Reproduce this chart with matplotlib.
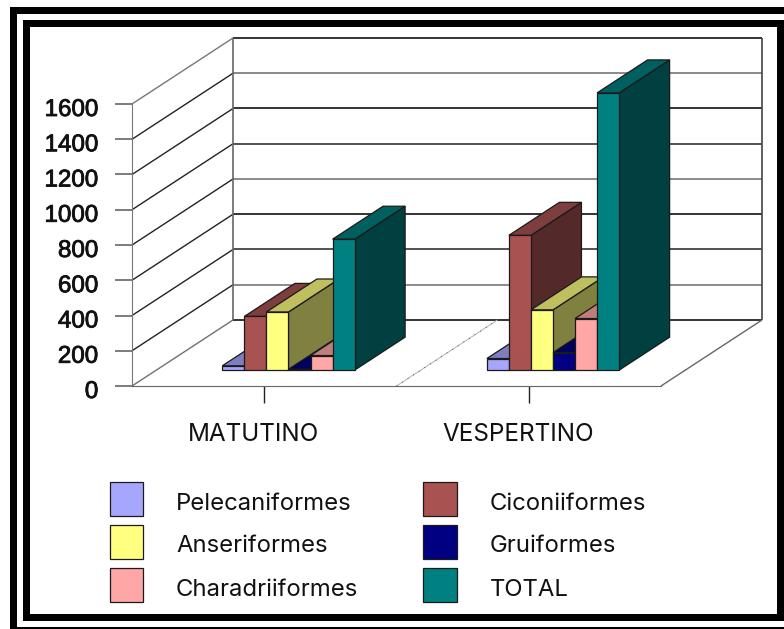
import matplotlib
matplotlib.use("Agg")
import matplotlib.pyplot as plt
import matplotlib.patheffects as pe
from matplotlib.patches import Polygon, Rectangle
from matplotlib.transforms import ScaledTranslation

categories = ["MATUTINO", "VESPERTINO"]
series = ["Pelecaniformes", "Ciconiiformes", "Anseriformes",
          "Gruiformes", "Charadriiformes", "TOTAL"]

pelecaniformes = [25, 66]
ciconiiformes = [305, 765]
anseriformes = [330, 342]
gruiformes = [5, 100]
charadriiformes = [83, 293]
total = [743, 1573]
values = [pelecaniformes, ciconiiformes, anseriformes,
          gruiformes, charadriiformes, total]

yticks = [0, 200, 400, 600, 800, 1000, 1200, 1400, 1600]

front_colors = ["#A6A6FF", "#A85252", "#FFFF80", "#000080", "#FFA6A6", "#008080"]
top_colors = ["#7D7DBF", "#7E3E3E", "#BFBF60", "#000060", "#BF7D7D", "#006060"]
side_colors = ["#535380", "#542929", "#808040", "#000040", "#805353", "#004040"]

# grey or black wall lines, bottom to top (0 is the floor)
wall_left = ["#707070", "#222222", "#222222", "#222222", "#222222", "#222222",
             "#222222", "#222222", "#777777"]
wall_back = ["#111111", "#777777", "#333333", "#111111", "#777777", "#333333",
             "#111111", "#777777", "#111111"]

W, H = 784, 629
FONT = "Inter"

fig = plt.figure(figsize=(W / 100, H / 100), dpi=100)

# double frame round the whole figure, in pixels
bg = fig.add_axes([0, 0, 1, 1])
bg.set_xlim(0, W)
bg.set_ylim(H, 0)
bg.axis("off")
bg.add_patch(Rectangle((10, 7), W, H, fc="black", ec="none"))
bg.add_patch(Rectangle((17, 13.7), W, 613.3, fc="white", ec="none"))
bg.add_patch(Rectangle((23, 19.7), 761, 601.3, fc="black", ec="none"))
bg.add_patch(Rectangle((30, 26.7), 747, 587.3, fc="white", ec="none"))

# front plane of the 3d box; everything else is offset from it
AX_L, AX_R, AX_T, AX_B = 132, 661, 104, 386
ax = fig.add_axes([AX_L / W, 1 - AX_B / H, (AX_R - AX_L) / W, (AX_B - AX_T) / H])
ax.set_xlim(0, 2)
ax.set_ylim(0, 1600)
ax.patch.set_alpha(0)

# depth of the box converted to data units
DX = 101 / ((AX_R - AX_L) / 2)
DY = 66 / ((AX_B - AX_T) / 1600)
BAR_FRONT, BAR_BACK = 0.24, 0.74


def proj(x, v, d=0.0):
    return x + d * DX, v + d * DY


def wall_line(pts, color, lw=1.0, zorder=1, **kw):
    xs, ys = zip(*pts)
    ax.plot(xs, ys, color=color, lw=lw, clip_on=False, zorder=zorder,
            solid_capstyle="butt", **kw)


for i, v in enumerate(yticks):
    wall_line([proj(0, v), proj(0, v, 1)], wall_left[i], lw=1.0)
    wall_line([proj(0, v, 1), proj(2, v, 1)], wall_back[i], lw=1.2)

wall_line([proj(0, 0, 1), proj(0, 1600, 1)], "#666666", lw=1.2)
wall_line([proj(2, 0, 1), proj(2, 1600, 1)], "#444444", lw=1.2)
wall_line([proj(2, 0), proj(2, 0, 1)], "#666666")
# divider on the floor between the two categories
wall_line([proj(1, 0), proj(1, 0, 1)], "#BBBBBB", lw=0.8)
wall_line([proj(1, 0), proj(1, 0, 1)], "#333333", lw=0.6, linestyle=(0, (1, 7)))

BAR_W = 1 / 12


def draw_bar(x, h, front, top, side, z):
    x2 = x + BAR_W
    d1, d2 = BAR_FRONT, BAR_BACK
    faces = [
        ([proj(x2, 0, d1), proj(x2, 0, d2), proj(x2, h, d2), proj(x2, h, d1)], side),
        ([proj(x, h, d1), proj(x2, h, d1), proj(x2, h, d2), proj(x, h, d2)], top),
        ([proj(x, 0, d1), proj(x2, 0, d1), proj(x2, h, d1), proj(x, h, d1)], front),
    ]
    for pts, color in faces:
        ax.add_patch(Polygon(pts, closed=True, fc=color, ec="#1A1A1A", lw=0.9,
                             clip_on=False, zorder=z, joinstyle="miter"))


# painted left to right so that later bars cover the sides of earlier ones
z = 3
for c in range(len(categories)):
    for s in range(len(series)):
        x = c + 0.25 + s * BAR_W
        draw_bar(x, values[s][c], front_colors[s], top_colors[s], side_colors[s], z)
        z += 1

for side_name in ["top", "right"]:
    ax.spines[side_name].set_visible(False)
ax.spines["left"].set_color("#777777")
ax.spines["bottom"].set_color("#666666")

TICK_LEN = 17 * 0.72
ax.set_yticks(yticks)
ax.set_yticklabels([str(v) for v in yticks], fontsize=17.4,
                   family="Liberation Sans", color="#111111")
ax.tick_params(axis="y", length=TICK_LEN, width=1.2, color="#666666", pad=12)
ax.set_xticks([0.5, 1.5])
ax.set_xticklabels(categories, fontsize=17.5, family=FONT, color="#111111")
ax.tick_params(axis="x", length=TICK_LEN, width=1.0, color="#222222", pad=14.5)

# value labels hang a little below their ticks and are slightly heavier
down = ScaledTranslation(0, -3.5 / 100, fig.dpi_scale_trans)
for lab in ax.get_yticklabels():
    lab.set_transform(lab.get_transform() + down)
    lab.set_path_effects([pe.withStroke(linewidth=0.6, foreground="#111111")])

# category names sit a little left of their ticks
shift = ScaledTranslation(-11 / 100, 0, fig.dpi_scale_trans)
for lab in ax.get_xticklabels():
    lab.set_transform(lab.get_transform() + shift)

# legend: two columns of three, read row by row
rows_y = [481.5, 524.5, 567.5]
swatch_x = [110, 423.5]
label_x = [176, 490]
for s, name in enumerate(series):
    col, row = s % 2, s // 2
    bg.add_patch(Rectangle((swatch_x[col], rows_y[row]), 33.5, 34.5,
                           fc=front_colors[s], ec="#1A1A1A", lw=0.9))
    bg.text(label_x[col], rows_y[row] + 22, name, fontsize=17.2, family=FONT,
            color="#111111", ha="left", va="center")

fig.savefig("out.png", dpi=100)
